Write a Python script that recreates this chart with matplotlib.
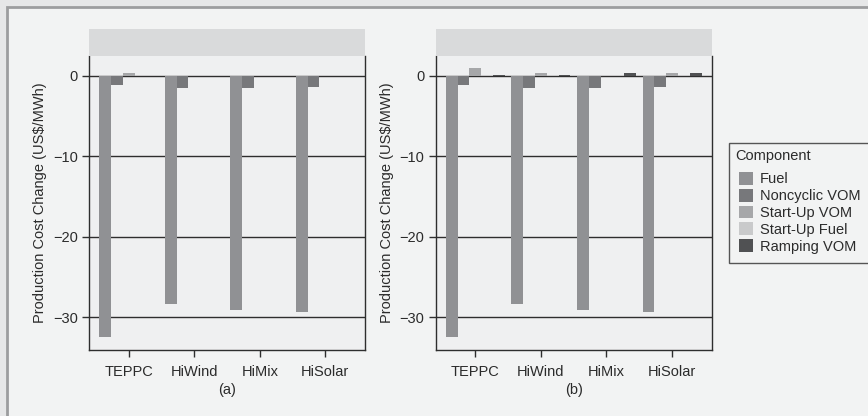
import matplotlib
matplotlib.use("Agg")
import matplotlib.pyplot as plt
import matplotlib.patches as mpatches
import numpy as np

plt.rcParams['font.family'] = ['Liberation Sans', 'DejaVu Sans']
plt.rcParams['axes.unicode_minus'] = True

scenarios = ["TEPPC", "HiWind", "HiMix", "HiSolar"]
components = ["Fuel", "Noncyclic VOM", "Start-Up VOM", "Start-Up Fuel", "Ramping VOM"]
colors = ["#909194", "#77787b", "#a6a7a9", "#c9cacb", "#505153"]

# (a) cost change by component
fuel_a = [-32.4, -28.3, -29.1, -29.35]
noncyclic_a = [-1.1, -1.5, -1.5, -1.4]
startup_vom_a = [0.3, 0.0, 0.0, 0.0]
startup_fuel_a = [0.0, 0.0, 0.0, 0.0]
ramping_a = [0.0, 0.0, 0.0, 0.0]

# (b) cost change by component
fuel_b = [-32.4, -28.3, -29.1, -29.3]
noncyclic_b = [-1.1, -1.5, -1.5, -1.4]
startup_vom_b = [0.95, 0.3, 0.0, 0.3]
startup_fuel_b = [0.0, 0.0, 0.0, 0.0]
ramping_b = [0.15, 0.15, 0.3, 0.3]

panels = [
    ("(a)", [fuel_a, noncyclic_a, startup_vom_a, startup_fuel_a, ramping_a]),
    ("(b)", [fuel_b, noncyclic_b, startup_vom_b, startup_fuel_b, ramping_b]),
]

W, H = 868, 416
fig = plt.figure(figsize=(W / 100, H / 100), dpi=100)
fig.patch.set_facecolor("#e6e7e8")

# framed inner panel
frame = mpatches.Rectangle((6.5 / W, -0.1), 1.2, (H - 6.5) / H + 0.1,
                           transform=fig.transFigure, facecolor="#f2f3f3",
                           edgecolor="#9c9d9f", linewidth=2.0, zorder=-10)
fig.patches.append(frame)

text_col = "#2b2b2b"
line_col = "#2e2e2e"
fs = 10.5

ax_lefts = [89, 435.7]
ax_w = 276
ax_top, ax_bot = 56, 350
strip_top = 29

x = np.arange(1, len(scenarios) + 1)
bw = 0.18
offsets = (np.arange(len(components)) - 2) * bw

for (label, series), left in zip(panels, ax_lefts):
    ax = fig.add_axes([left / W, (H - ax_bot) / H, ax_w / W, (ax_bot - ax_top) / H])
    ax.set_zorder(1)
    ax.set_facecolor("#eff0f1")
    for vals, off, c in zip(series, offsets, colors):
        ax.bar(x + off, vals, width=bw, color=c, linewidth=0, zorder=2)
    ax.set_xlim(0.395, 4.605)
    ax.set_ylim(-34.06, 2.45)
    ax.set_yticks([0, -10, -20, -30])
    ax.set_xticks(x)
    ax.set_xticklabels(scenarios)
    ax.yaxis.grid(True, color=line_col, linewidth=1.0, zorder=1)
    ax.set_axisbelow(True)
    for s in ["left", "right", "bottom"]:
        ax.spines[s].set_color(line_col)
        ax.spines[s].set_linewidth(1.0)
    ax.spines["top"].set_visible(False)
    ax.tick_params(axis="both", direction="out", length=5, width=1.0,
                   color=line_col, labelcolor=text_col, labelsize=fs)
    ax.tick_params(axis="y", pad=3)
    ax.tick_params(axis="x", pad=6)
    ax.set_ylabel("Production Cost Change (US$/MWh)", fontsize=fs, color=text_col, labelpad=4)
    ax.set_xlabel(label, fontsize=fs, color=text_col, labelpad=3)

    # blank facet strip
    strip = mpatches.Rectangle((left / W, (H - ax_top) / H), ax_w / W, (ax_top - strip_top) / H,
                               transform=fig.transFigure, facecolor="#d9dadb",
                               edgecolor="none", zorder=1)
    fig.patches.append(strip)

handles = [mpatches.Patch(facecolor=c, edgecolor="none", label=n) for n, c in zip(components, colors)]
leg = fig.legend(handles=handles, title="Component", loc="upper left",
                 bbox_to_anchor=(729 / W, 1 - 143 / H), fontsize=fs, title_fontsize=fs,
                 frameon=True, fancybox=False, handlelength=1.0, handleheight=0.95,
                 handletextpad=0.45, labelspacing=0.17, borderpad=0.42, borderaxespad=0)
leg.set_zorder(5)
leg.get_frame().set_edgecolor(line_col)
leg.get_frame().set_facecolor("#f2f3f3")
leg.get_frame().set_linewidth(1.0)
leg._legend_box.align = "left"
leg._legend_box.sep = 4
leg._legend_handle_box.pad = 2.5
for t in leg.get_texts():
    t.set_color(text_col)
leg.get_title().set_color(text_col)

fig.savefig("out.png", dpi=100, facecolor=fig.get_facecolor())
